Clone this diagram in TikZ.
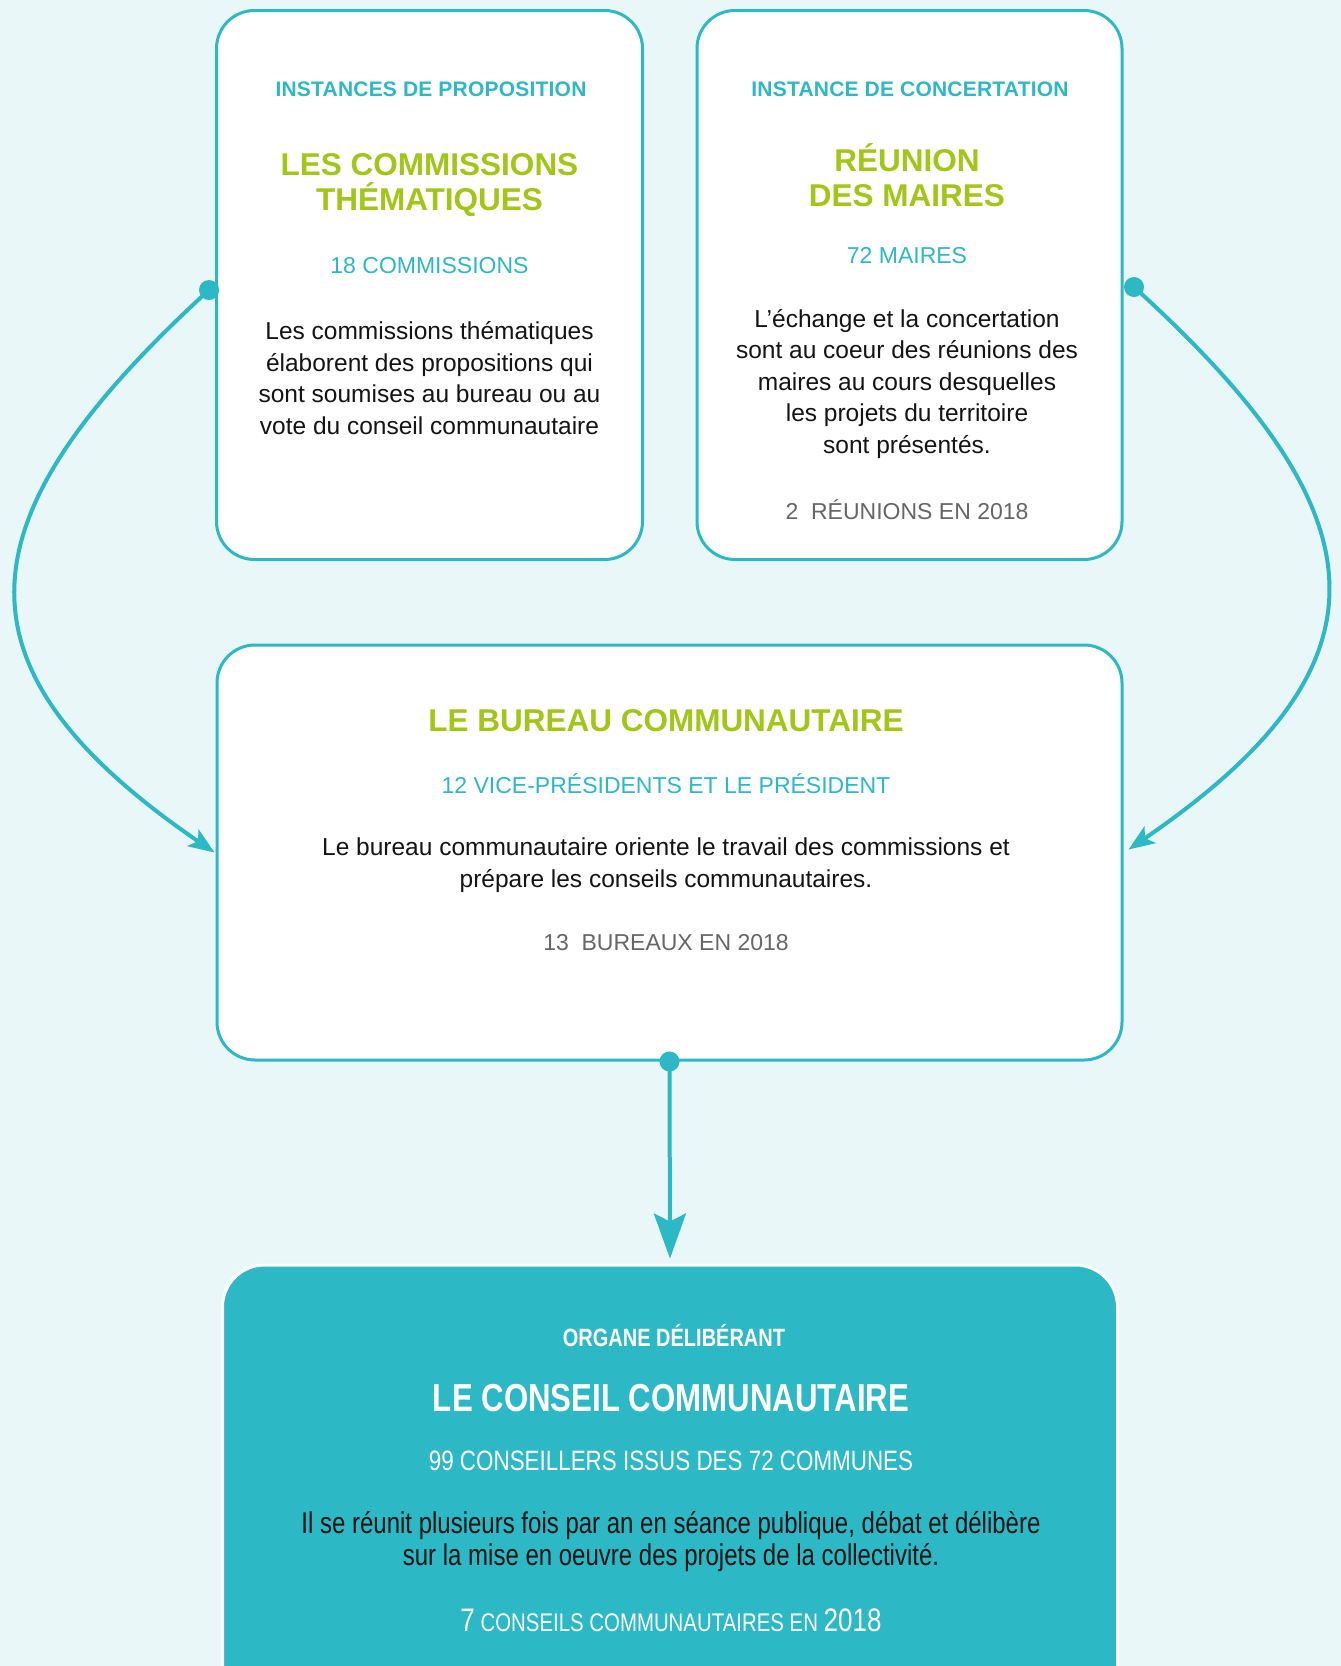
\documentclass[tikz,border=0pt]{standalone}
\usepackage{fontspec}
\setmainfont{Liberation Sans}
\newfontfamily\spacedfont[LetterSpace=1]{Liberation Sans}
\newfontfamily\narrowfont[FakeStretch=0.8]{Liberation Sans}
\usetikzlibrary{positioning, arrows.meta, calc}

\definecolor{bgcyan}{HTML}{E9F7F8}
\definecolor{cteal}{HTML}{2DB8C5}
\definecolor{cgreen}{HTML}{A2C617}
\definecolor{ctext}{HTML}{141414}
\definecolor{cgray}{HTML}{666666}

\begin{document}
\begin{tikzpicture}[
    x=1pt, y=-1pt,
    box/.style={draw=cteal, line width=3pt, fill=white, rounded corners=38pt, inner sep=0pt},
    mainbox/.style={draw=white, line width=3pt, fill=cteal, rounded corners=42pt, inner sep=0pt},
    kicker/.style={font=\spacedfont\bfseries\fontsize{21}{24}\selectfont, text=cteal},
    title/.style={font=\bfseries\fontsize{31.5}{35}\selectfont, text=cgreen, align=center},
    count/.style={font=\fontsize{23}{28}\selectfont, text=cteal},
    body/.style={font=\fontsize{24.5}{31.5}\selectfont, text=ctext, align=center},
    stat/.style={font=\fontsize{23}{26}\selectfont, text=cgray},
    dot/.style={circle, fill=cteal, inner sep=0pt, minimum size=20pt},
    link/.style={draw=cteal, line width=4pt, -{Stealth[length=26pt, width=20pt, inset=6pt]}},
  ]
  \useasboundingbox (0,0) rectangle (1341,1666);
  \clip (0,0) rectangle (1341,1666);
  \fill[bgcyan] (0,0) rectangle (1341,1666);

  % Boxes
  \node[box, minimum width=426pt, minimum height=549pt] (prop) at (429.5, 285) {};
  \node[box, minimum width=425pt, minimum height=549pt] (conc) at (909.5, 285) {};
  \node[box, minimum width=905pt, minimum height=415pt] (bureau) at (669.5, 852.5) {};
  \node[mainbox, minimum width=895pt, minimum height=460pt] (conseil) at (670, 1495) {};

  % Texts of the commissions
  \node[kicker] (propK) at (431, 89) {INSTANCES DE PROPOSITION};
  \node[title] (propT) at (429.5, 185) {LES COMMISSIONS\\THÉMATIQUES};
  \node[count] (propC) at (429.5, 266) {18 COMMISSIONS};
  \node[body] (propB) at (429.5, 378) {Les commissions thématiques\\élaborent des propositions qui\\sont soumises au bureau ou au\\vote du conseil communautaire};

  % Texts of the mayors
  \node[kicker] (concK) at (910, 89) {INSTANCE DE CONCERTATION};
  \node[title] (concT) at (907, 175) {RÉUNION\\DES MAIRES};
  \node[count] (concC) at (907, 256) {72 MAIRES};
  \node[body] (concB) at (907, 384) {L’échange et la concertation\\sont au coeur des réunions des\\maires au cours desquelles\\les projets du territoire\\sont présentés.};
  \node[stat] (concS) at (907, 510) {2\ \ RÉUNIONS EN 2018};

  % Texts of the bureau
  \node[title] (burT) at (666, 721) {LE BUREAU COMMUNAUTAIRE};
  \node[count] (burC) at (666, 784) {12 VICE-PRÉSIDENTS ET LE PRÉSIDENT};
  \node[body] (burB) at (666, 865) {Le bureau communautaire oriente le travail des commissions et\\prépare les conseils communautaires.};
  \node[stat] (burS) at (666, 943) {13\ \ BUREAUX EN 2018};

  % Texts of the council
  \node[font=\narrowfont\bfseries\fontsize{25}{28}\selectfont, text=white] (conK) at (674, 1336) {ORGANE DÉLIBÉRANT};
  \node[font=\narrowfont\bfseries\fontsize{39}{42}\selectfont, text=white] (conT) at (671, 1398) {LE CONSEIL COMMUNAUTAIRE};
  \node[font=\narrowfont\fontsize{28}{32}\selectfont, text=white] (conC) at (671, 1461) {99 CONSEILLERS ISSUS DES 72 COMMUNES};
  \node[font=\narrowfont\fontsize{30}{32}\selectfont, text=ctext, align=center] (conB) at (671, 1542) {Il se réunit plusieurs fois par an en séance publique, débat et délibère\\sur la mise en oeuvre des projets de la collectivité.};
  \node[font=\narrowfont\fontsize{25.5}{30}\selectfont, text=white] (conS) at (671, 1620) {{\fontsize{32.5}{34}\selectfont 7} CONSEILS COMMUNAUTAIRES EN {\fontsize{32.5}{34}\selectfont 2018}};

  % Links
  \node[dot] (dotL) at (209, 290) {};
  \node[dot] (dotR) at (1134, 287) {};
  \node[dot] (dotB) at (bureau.south) {};
  \coordinate (inL) at ([xshift=-1pt, yshift=0pt]bureau.west);
  \coordinate (inR) at ([xshift=5pt, yshift=3pt]bureau.east);
  \coordinate (inB) at ([yshift=5pt]conseil.north);

  \path[link] (dotL.center) .. controls +(-246, 225) and +(-275, -188) .. (inL);
  \path[link] (dotR.center) .. controls +(248, 225) and +(275, -188) .. (inR);
  \path[link, line width=4pt, -{Stealth[length=45pt, width=32pt, inset=8pt]}] (dotB.center) -- (inB);
\end{tikzpicture}
\end{document}
